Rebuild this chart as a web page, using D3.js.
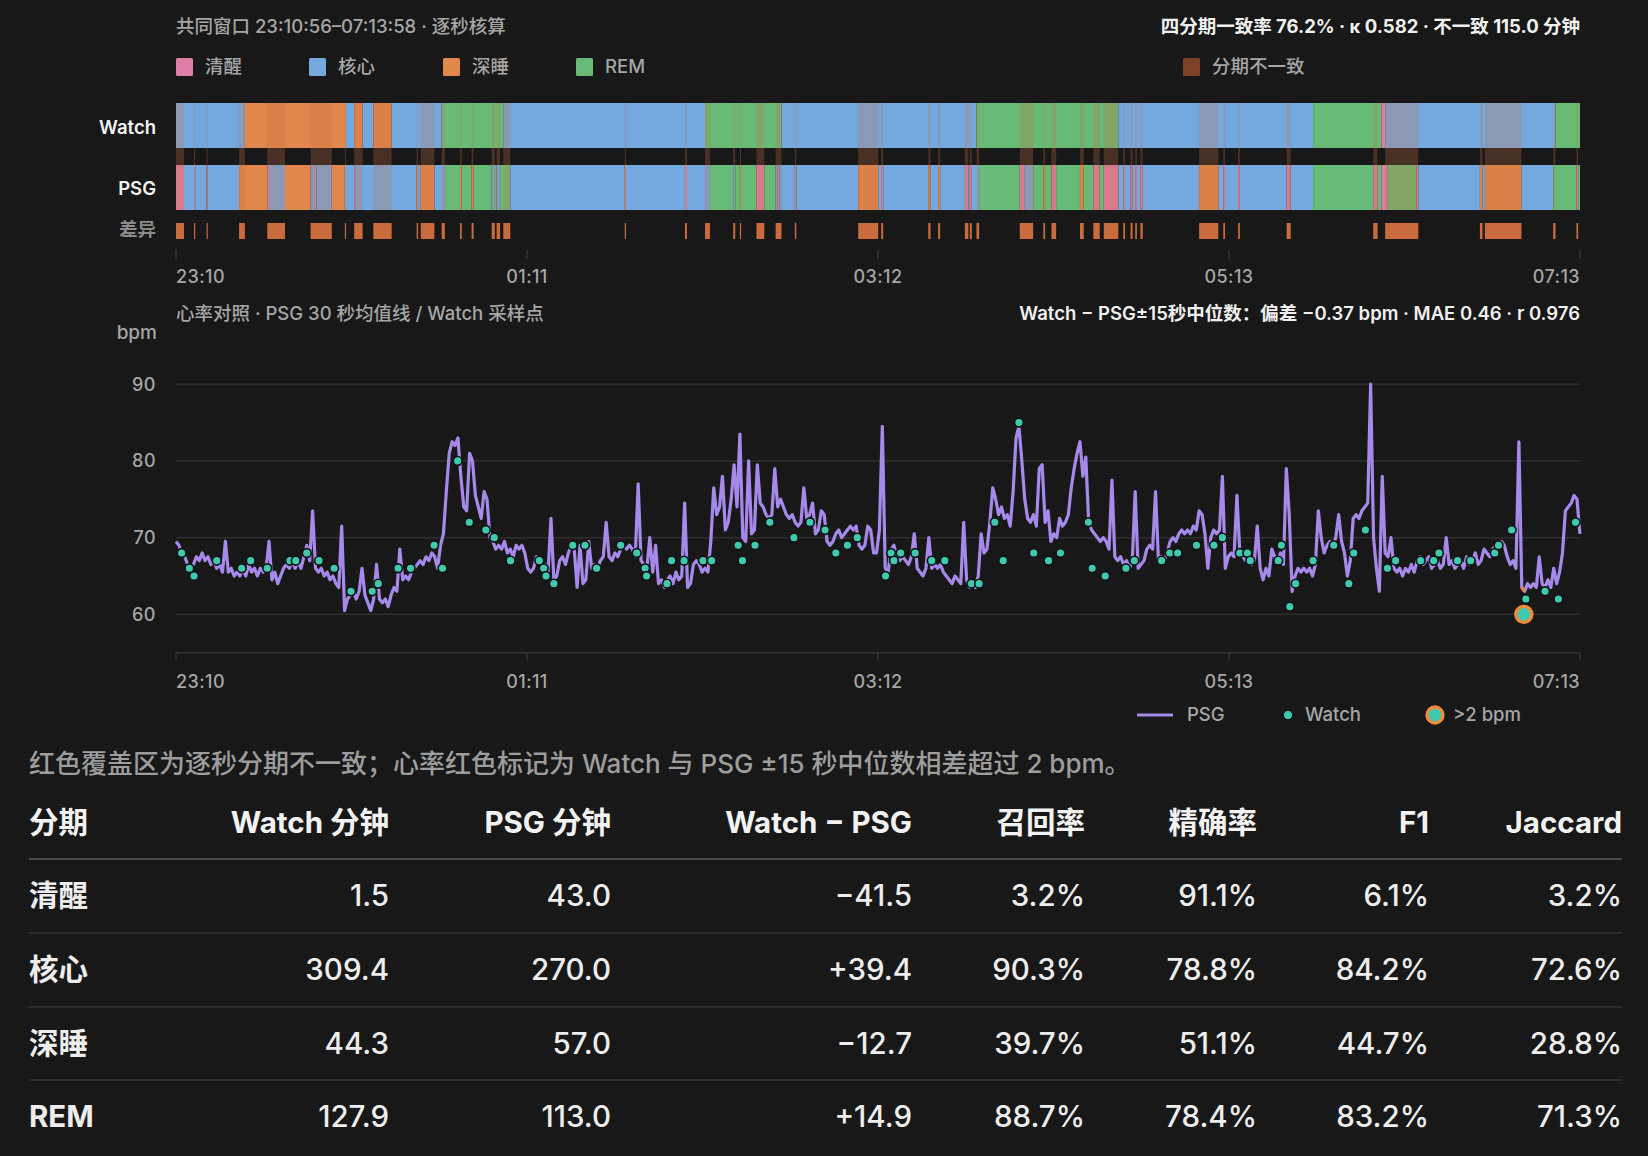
<!DOCTYPE html>
<html><head><meta charset="utf-8">
<script src="https://cdn.jsdelivr.net/npm/d3@7"></script>
<style>
html,body{margin:0;padding:0;background:#181818;}
svg{display:block;}
text{font-family:Inter,"Noto Sans CJK SC","Noto Sans",sans-serif;}
</style></head><body>
<svg id="c" width="1648" height="1156"></svg>
<script>
// ---------------- DATA ----------------
const TOTAL_MIN = 483.03; // 23:10:56 – 07:13:58
const tickLabels = ["23:10", "01:11", "03:12", "05:13", "07:13"];
const stageKeys = ["awake", "core", "deep", "rem"];
const stageNames = ["清醒", "核心", "深睡", "REM"];
const stageColors = ["#de7ea6", "#74a9e0", "#e2874b", "#67bb77"];

// [start minute, end minute, stage]
const watchSegments = [
  [0, 23.7, "core"], [23.7, 58.5, "deep"], [58.5, 61.3, "core"], [61.3, 64.2, "deep"],
  [64.2, 67.9, "core"], [67.9, 74.2, "deep"], [74.2, 91.4, "core"], [91.4, 112.6, "rem"],
  [112.6, 182.0, "core"], [182.0, 208.3, "rem"], [208.3, 275.4, "core"], [275.4, 324.2, "rem"],
  [324.2, 391.2, "core"], [391.2, 414.7, "rem"], [414.7, 416.0, "awake"], [416.0, 474.6, "core"],
  [474.6, 483.03, "rem"]
];
const psgSegments = [
  [0, 2.75, "awake"], [2.75, 6.2, "core"], [6.2, 6.6, "awake"], [6.6, 10.5, "core"],
  [10.5, 10.9, "awake"], [10.9, 21.7, "core"], [21.7, 31.4, "deep"], [31.4, 32.0, "awake"],
  [32.0, 37.5, "core"], [37.5, 46.3, "deep"], [46.3, 47.8, "core"], [47.8, 48.3, "awake"],
  [48.3, 53.6, "core"], [53.6, 58.1, "deep"], [58.1, 61.5, "core"], [61.5, 61.9, "awake"],
  [61.9, 82.8, "core"], [82.8, 83.3, "deep"], [83.3, 84.2, "core"], [84.2, 88.9, "deep"],
  [88.9, 92.5, "core"], [92.5, 97.7, "rem"], [97.7, 98.3, "deep"], [98.3, 101.7, "rem"],
  [101.7, 102.4, "deep"], [102.4, 108.6, "rem"], [108.6, 109.7, "core"], [109.7, 110.3, "rem"],
  [110.3, 111.5, "core"], [111.5, 115.0, "rem"], [115.0, 154.4, "core"], [154.4, 154.8, "deep"],
  [154.8, 175.1, "core"], [175.1, 175.8, "awake"], [175.8, 183.7, "core"], [183.7, 191.7, "rem"],
  [191.7, 192.4, "core"], [192.4, 194.0, "rem"], [194.0, 194.4, "deep"], [194.4, 199.7, "rem"],
  [199.7, 202.4, "awake"], [202.4, 206.3, "rem"], [206.3, 207.0, "core"], [207.0, 207.6, "awake"],
  [207.6, 212.9, "core"], [212.9, 213.4, "awake"], [213.4, 234.7, "core"], [234.7, 241.6, "deep"],
  [241.6, 242.6, "core"], [242.6, 243.3, "awake"], [243.3, 258.8, "core"], [258.8, 259.6, "deep"],
  [259.6, 262.2, "core"], [262.2, 262.9, "deep"], [262.9, 271.4, "core"], [271.4, 272.6, "awake"],
  [272.6, 273.1, "core"], [273.1, 273.8, "awake"], [273.8, 276.3, "core"], [276.3, 290.3, "rem"],
  [290.3, 291.8, "awake"], [291.8, 294.9, "core"], [294.9, 298.4, "rem"], [298.4, 299.0, "deep"],
  [299.0, 301.2, "rem"], [301.2, 302.8, "awake"], [302.8, 311.0, "rem"], [311.0, 312.3, "deep"],
  [312.3, 315.6, "rem"], [315.6, 317.8, "awake"], [317.8, 319.2, "rem"], [319.2, 324.2, "awake"],
  [324.2, 325.9, "core"], [325.9, 326.5, "awake"], [326.5, 328.4, "core"], [328.4, 329.1, "awake"],
  [329.1, 330.0, "core"], [330.0, 330.6, "awake"], [330.6, 331.8, "core"], [331.8, 332.6, "awake"],
  [332.6, 352.0, "core"], [352.0, 358.6, "deep"], [358.6, 360.3, "core"], [360.3, 360.9, "awake"],
  [360.9, 365.4, "core"], [365.4, 366.0, "awake"], [366.0, 382.1, "core"], [382.1, 383.5, "awake"],
  [383.5, 391.2, "core"], [391.2, 411.9, "rem"], [411.9, 413.4, "awake"], [413.4, 414.7, "rem"],
  [414.7, 416.7, "awake"], [416.7, 426.8, "rem"], [426.8, 427.4, "awake"], [427.4, 448.6, "core"],
  [448.6, 449.5, "deep"], [449.5, 450.3, "core"], [450.3, 462.9, "deep"], [462.9, 473.8, "core"],
  [473.8, 481.8, "rem"], [481.8, 482.4, "awake"], [482.4, 483.03, "rem"]
];

// PSG heart rate, one value per minute from 23:10:56 (bpm)
const psgBpm = [
  69.5,69,68,67.5,66.5,66,66.5,67.5,67,68,
  67,67.5,66.5,67,66,66.5,65.5,69.5,65.5,66,
  65,65.5,65,66,65,66.5,65.5,66,65,66,
  65.5,66,69.5,64.5,65.5,64,65,66,66.5,66,
  67,66,67,66,67.5,69,67,73.5,66,65.5,
  66,65,65.5,64.5,65,64,63.5,71.5,60.5,62,
  62.5,63,62,63,66,62.5,61.5,60.5,62,66.5,
  62,61.5,62,61,62.5,63.5,63,68.5,64.5,65,
  64.5,65.5,66,66.5,67,66.5,67.5,67,68,67.5,
  66,69,70.5,76,81,82.5,82,83,78,74,
  73.5,81,80,75.5,74,72.5,76,75,70,69.5,
  68.5,69,68.5,69.5,68,68.5,67.5,69,68.5,69,
  68,66,65.5,66,67.5,67,66,66.5,65.5,72.5,
  64.5,65,67,67.5,66.5,68,69,68.5,63.5,69,
  64,64.5,69.5,66,66.5,66,67,67.5,72,67.5,
  67,68,67.5,68.5,69,68.5,69,68.5,67.5,77,
  67,66.5,66,70,65.5,69,64,64.5,63.5,64.5,
  65,64,65.5,64.5,65,74.5,63.5,64,66.5,67,
  66.5,65.5,66,65.5,69.5,76.5,73,74,78,71,
  72,75,79.5,74,83.5,70,69.5,80,70.5,71,
  79.5,74.5,74,73,72.5,73,79,74,75,74,
  73,72.5,73,72,71.5,72,76.5,72.5,73,74.5,
  70.5,71,73.5,73,69.5,69,69.5,70.5,71,70,
  70.5,71,71.5,71,71.5,69,68.5,69,71.5,71,
  68,68,71,84.5,66,65.5,68.5,69,67.5,67,
  67.5,67,66.5,67.5,70.5,66,65.5,65,66,70,
  66,66.5,66,66.5,65.5,65,64.5,64,65,64.5,
  64,72,64.5,63.5,64,63.5,65,70.5,68,68.5,
  72,76.5,75,73,74,72.5,73,71.5,76,83,
  84.5,80,75,72.5,72,73,71.5,79,79.5,72,
  73.5,69.5,70.5,70,72.5,71.5,72,73,76.5,79,
  81,82.5,78,80.5,72,71,70.5,70,69.5,70,
  69.5,68.5,77.5,67.5,67,67.5,66.5,67,66,67,
  76,66,66.5,67,68.5,69,68.5,76,67,67.5,
  67,68,69.5,70,69.5,70.5,71,70.5,71,70.5,
  71.5,71,73.5,73,70.5,66,70,71,70.5,71,
  78,66,67.5,68,67.5,75.5,68,67.5,67,67.5,
  66.5,67,71.5,66,64.5,66,65,68.5,67.5,67,
  68,66.5,79,73,63,65,66,65.5,66,65.5,
  66,65,66.5,73.5,70,68,69,69.5,69,70,
  73,69.5,68,65,67,72.5,73,72.5,73.5,74,
  74.5,90,70,66,63,78,68,67.5,70,66,
  65.5,66,65,66,65.5,66.5,65.5,67,67.5,66.5,
  67,67.5,66,66.5,67,66,66.5,70,66.5,67,
  66,66.5,67,66,67.5,66.5,67,68,66.5,67,
  68.5,68,67.5,68.5,69,68.5,69.5,69,67.5,66.5,
  67,66,82.5,63.5,63,64,63.5,64,63.5,67.5,
  64,63.5,64.5,63.5,66,64,65.5,68,73.5,74,
  74.5,75.5,75,70.5
];

// Watch samples: minute offset and bpm
const watchMin = [
  1.95,4.6,6.2,14.0,22.6,25.7,31.4,39.2,41.2,45.0,49.2,54.4,60.2,67.5,69.6,76.4,80.7,88.8,91.7,
  96.9,100.9,106.6,109.5,115.1,125.0,126.5,127.3,130.0,136.5,140.7,144.7,153.0,158.5,161.4,161.9,
  168.9,170.5,174.8,181.3,184.3,193.4,194.9,199.2,204.3,212.6,218.1,223.3,227.0,231.0,234.4,244.1,
  246.0,247.0,249.3,254.3,260.0,264.5,273.7,276.3,281.7,284.6,290.0,295.1,300.2,304.3,313.9,315.2,
  319.7,326.8,329.7,339.1,341.9,344.6,351.1,357.1,360.0,366.0,368.6,369.6,379.2,380.3,383.2,385.2,
  391.2,398.3,403.5,405.2,409.2,416.8,419.6,428.2,432.7,434.5,440.9,445.4,453.7,455.0,459.5,463.7,
  464.4,471.0,475.6,481.5
];
const watchBpm = [
  68,66,65,67,66,67,66,67,67,68,67,66,63,63,64,66,66,69,66,
  80,72,71,70,67,67,66,65,64,69,69,66,69,68,66,65,
  64,67,67,67,67,69,67,69,72,70,72,71,68,69,70,65,
  68,67,68,68,67,67,64,64,72,67,85,68,67,68,72,66,
  65,66,67,67,68,68,69,69,70,68,68,67,67,69,61,64,
  67,69,64,68,71,66,67,67,67,68,67,67,68,69,71,60,
  62,63,62,72
];
// Watch samples differing from PSG ±15 s median by more than 2 bpm
const flaggedMin = [463.7];

const yTicks = [60, 70, 80, 90];

const headTitle = "共同窗口 23:10:56–07:13:58 · 逐秒核算";
const headStats = "四分期一致率 76.2% · κ 0.582 · 不一致 115.0 分钟";
const hrTitle = "心率对照 · PSG 30 秒均值线 / Watch 采样点";
const hrStats = "Watch − PSG±15秒中位数：偏差 −0.37 bpm · MAE 0.46 · r 0.976";
const noteText = "红色覆盖区为逐秒分期不一致；心率红色标记为 Watch 与 PSG ±15 秒中位数相差超过 2 bpm。";

const tableHeaders = ["分期", "Watch 分钟", "PSG 分钟", "Watch − PSG", "召回率", "精确率", "F1", "Jaccard"];
const colWatchMin = ["1.5", "309.4", "44.3", "127.9"];
const colPsgMin = ["43.0", "270.0", "57.0", "113.0"];
const colDiff = ["−41.5", "+39.4", "−12.7", "+14.9"];
const colRecall = ["3.2%", "90.3%", "39.7%", "88.7%"];
const colPrecision = ["91.1%", "78.8%", "51.1%", "78.4%"];
const colF1 = ["6.1%", "84.2%", "44.7%", "83.2%"];
const colJaccard = ["3.2%", "72.6%", "28.8%", "71.3%"];

// ---------------- DRAW ----------------
const svg = d3.select("#c");
svg.append("rect").attr("width", 1648).attr("height", 1156).attr("fill", "#181818");

const color = d3.scaleOrdinal().domain(stageKeys).range(stageColors);
const x = d3.scaleLinear().domain([0, TOTAL_MIN]).range([176, 1580]);
const tickMins = tickLabels.map((_, i) => i * TOTAL_MIN / (tickLabels.length - 1));
const anchorFor = i => i === 0 ? "start" : (i === tickLabels.length - 1 ? "end" : "middle");

const gray = "#a6a6a6";
const SMALL = 18.5;

// header
svg.append("text").attr("x", 176).attr("y", 27).attr("dy", "0.35em")
  .attr("font-size", SMALL).attr("font-weight", 500).attr("fill", gray).text(headTitle);
svg.append("text").attr("x", 1580).attr("y", 27).attr("dy", "0.35em").attr("text-anchor", "end")
  .attr("font-size", SMALL).attr("font-weight", 700).attr("fill", "#f0f0f0").text(headStats);

// legend
const legX = [176, 309, 443, 576];
stageKeys.forEach((k, i) => {
  const g = svg.append("g").attr("transform", `translate(${legX[i]},67)`);
  g.append("rect").attr("x", 0).attr("y", -9).attr("width", 17).attr("height", 18).attr("rx", 1.5).attr("fill", color(k));
  g.append("text").attr("x", 29).attr("dy", "0.35em").attr("font-size", SMALL).attr("font-weight", 500).attr("fill", gray).text(stageNames[i]);
});
{
  const g = svg.append("g").attr("transform", "translate(1183,67)");
  g.append("rect").attr("x", 0).attr("y", -9).attr("width", 17).attr("height", 18).attr("rx", 1.5).attr("fill", "#7d4128");
  g.append("text").attr("x", 29).attr("dy", "0.35em").attr("font-size", SMALL).attr("font-weight", 500).attr("fill", gray).text("分期不一致");
}

// hypnogram rows
const rowWatch = {y: 103, h: 45}, rowPsg = {y: 165, h: 45}, rowDiff = {y: 223, h: 16};
svg.append("text").attr("x", 156).attr("y", 128).attr("dy", "0.35em").attr("text-anchor", "end")
  .attr("font-size", SMALL).attr("font-weight", 600).attr("fill", "#f2f2f2").text("Watch");
svg.append("text").attr("x", 156).attr("y", 189).attr("dy", "0.35em").attr("text-anchor", "end")
  .attr("font-size", SMALL).attr("font-weight", 600).attr("fill", "#f2f2f2").text("PSG");
svg.append("text").attr("x", 156).attr("y", 230).attr("dy", "0.35em").attr("text-anchor", "end")
  .attr("font-size", SMALL).attr("font-weight", 600).attr("fill", "#8a8a8a").text("差异");

function drawSegs(segs, row) {
  svg.append("g").selectAll("rect").data(segs).join("rect")
    .attr("x", d => x(d[0])).attr("y", row.y)
    .attr("width", d => Math.max(0.8, x(d[1]) - x(d[0])))
    .attr("height", row.h).attr("fill", d => color(d[2]));
}
drawSegs(watchSegments, rowWatch);
drawSegs(psgSegments, rowPsg);

// disagreement intervals computed from the two hypnograms
function stageAt(segs, m) {
  for (const s of segs) if (m >= s[0] && m < s[1]) return s[2];
  return null;
}
const bounds = Array.from(new Set([...watchSegments, ...psgSegments].flatMap(s => [s[0], s[1]]))).sort((a, b) => a - b);
const disagree = [];
for (let i = 0; i < bounds.length - 1; i++) {
  const a = bounds[i], b = bounds[i + 1];
  const mid = (a + b) / 2;
  if (stageAt(watchSegments, mid) !== stageAt(psgSegments, mid)) {
    const last = disagree[disagree.length - 1];
    if (last && Math.abs(last[1] - a) < 1e-9) last[1] = b; else disagree.push([a, b]);
  }
}
svg.append("g").selectAll("rect").data(disagree).join("rect")
  .attr("x", d => x(d[0])).attr("y", rowWatch.y)
  .attr("width", d => Math.max(1, x(d[1]) - x(d[0])))
  .attr("height", rowPsg.y + rowPsg.h - rowWatch.y)
  .attr("fill", "rgb(200,110,70)").attr("fill-opacity", 0.28);
svg.append("g").selectAll("rect").data(disagree).join("rect")
  .attr("x", d => x(d[0])).attr("y", rowDiff.y)
  .attr("width", d => Math.max(1.2, x(d[1]) - x(d[0])))
  .attr("height", rowDiff.h).attr("fill", "#c96b3c");

// hypnogram time axis
const tg1 = svg.append("g");
tickMins.forEach((m, i) => {
  tg1.append("line").attr("x1", x(m)).attr("x2", x(m)).attr("y1", 250).attr("y2", 259)
    .attr("stroke", "#333").attr("stroke-width", 1.5);
  tg1.append("text").attr("x", x(m)).attr("y", 277).attr("dy", "0.35em").attr("text-anchor", anchorFor(i))
    .attr("font-size", 18).attr("font-weight", 500).attr("letter-spacing", 0.4).attr("fill", gray).text(tickLabels[i]);
});

// heart-rate panel
svg.append("text").attr("x", 176).attr("y", 314).attr("dy", "0.35em")
  .attr("font-size", SMALL).attr("font-weight", 500).attr("fill", gray).text(hrTitle);
svg.append("text").attr("x", 1580).attr("y", 314).attr("dy", "0.35em").attr("text-anchor", "end")
  .attr("font-size", SMALL).attr("font-weight", 600).attr("fill", "#f0f0f0").text(hrStats);
svg.append("text").attr("x", 157).attr("y", 332).attr("dy", "0.35em").attr("text-anchor", "end")
  .attr("font-size", 19).attr("font-weight", 500).attr("fill", gray).text("bpm");

const y = d3.scaleLinear().domain([55, 90]).range([652.7, 384.2]);
const gg = svg.append("g");
yTicks.forEach(v => {
  gg.append("line").attr("x1", 176).attr("x2", 1580).attr("y1", y(v)).attr("y2", y(v))
    .attr("stroke", "#2e2e2e").attr("stroke-width", 1.5);
  gg.append("text").attr("x", 156).attr("y", y(v)).attr("dy", "0.35em").attr("text-anchor", "end")
    .attr("font-size", 18).attr("font-weight", 500).attr("letter-spacing", 0.5).attr("fill", gray).text(v);
});
gg.append("line").attr("x1", 176).attr("x2", 1580).attr("y1", y(55)).attr("y2", y(55))
  .attr("stroke", "#333").attr("stroke-width", 1.5);
tickMins.forEach((m, i) => {
  gg.append("line").attr("x1", x(m)).attr("x2", x(m)).attr("y1", y(55)).attr("y2", y(55) + 7)
    .attr("stroke", "#333").attr("stroke-width", 1.5);
  gg.append("text").attr("x", x(m)).attr("y", 682).attr("dy", "0.35em").attr("text-anchor", anchorFor(i))
    .attr("font-size", 18).attr("font-weight", 500).attr("letter-spacing", 0.4).attr("fill", gray).text(tickLabels[i]);
});

const psgPts = psgBpm.map((v, i) => [Math.min(i, TOTAL_MIN), v]);
const line = d3.line().x(d => x(d[0])).y(d => y(d[1]));
svg.append("path").datum(psgPts).attr("d", line).attr("fill", "none")
  .attr("stroke", "#a689ea").attr("stroke-width", 3.2).attr("stroke-linejoin", "round");

// highlight PSG near flagged samples
flaggedMin.forEach(m => {
  const seg = psgPts.filter(p => p[0] >= Math.floor(m) && p[0] <= Math.ceil(m));
  svg.append("path").datum(seg).attr("d", line).attr("fill", "none")
    .attr("stroke", "#f08a3c").attr("stroke-width", 3.2);
});

const watchPts = watchMin.map((m, i) => [m, watchBpm[i]]);
svg.append("g").selectAll("circle").data(watchPts).join("circle")
  .attr("cx", d => x(d[0])).attr("cy", d => y(d[1])).attr("r", 4.4)
  .attr("fill", "#3fcab0").attr("stroke", "#141414").attr("stroke-width", 1.7);
svg.append("g").selectAll("circle").data(watchPts.filter(d => flaggedMin.includes(d[0]))).join("circle")
  .attr("cx", d => x(d[0])).attr("cy", d => y(d[1])).attr("r", 8)
  .attr("fill", "#3fcab0").attr("stroke", "#f08a3c").attr("stroke-width", 3.4);

// HR legend
const lg = svg.append("g");
lg.append("line").attr("x1", 1137).attr("x2", 1173).attr("y1", 715).attr("y2", 715)
  .attr("stroke", "#a689ea").attr("stroke-width", 3.2);
lg.append("text").attr("x", 1187).attr("y", 715).attr("dy", "0.35em").attr("font-size", SMALL).attr("font-weight", 500).attr("fill", gray).text("PSG");
lg.append("circle").attr("cx", 1288).attr("cy", 715).attr("r", 4).attr("fill", "#3fcab0");
lg.append("text").attr("x", 1305).attr("y", 715).attr("dy", "0.35em").attr("font-size", SMALL).attr("font-weight", 500).attr("fill", gray).text("Watch");
lg.append("circle").attr("cx", 1435).attr("cy", 715).attr("r", 8).attr("fill", "#3fcab0")
  .attr("stroke", "#f08a3c").attr("stroke-width", 3.4);
lg.append("text").attr("x", 1453).attr("y", 715).attr("dy", "0.35em").attr("font-size", SMALL).attr("font-weight", 500).attr("fill", gray).text(">2 bpm");

// note
svg.append("text").attr("x", 29).attr("y", 764).attr("dy", "0.35em")
  .attr("font-size", 26).attr("font-weight", 500).attr("fill", "#9d9d9d").text(noteText);

// table
const colRight = [null, 389, 611, 912, 1085, 1257, 1429, 1622];
const cols = [stageNames, colWatchMin, colPsgMin, colDiff, colRecall, colPrecision, colF1, colJaccard];
const tg = svg.append("g");
tableHeaders.forEach((h, j) => {
  tg.append("text").attr("x", j === 0 ? 29 : colRight[j]).attr("y", 823).attr("dy", "0.35em")
    .attr("text-anchor", j === 0 ? "start" : "end")
    .attr("font-size", 29.5).attr("font-weight", 700).attr("fill", "#f2f2f2").text(h);
});
tg.append("line").attr("x1", 29).attr("x2", 1622).attr("y1", 859).attr("y2", 859)
  .attr("stroke", "#4a4a4a").attr("stroke-width", 2);
const rowY = [896, 970, 1044, 1117];
rowY.forEach((ry, r) => {
  if (r > 0) tg.append("line").attr("x1", 29).attr("x2", 1622).attr("y1", ry - 37).attr("y2", ry - 37)
    .attr("stroke", "#333").attr("stroke-width", 1.5);
  cols.forEach((col, j) => {
    tg.append("text").attr("x", j === 0 ? 29 : colRight[j]).attr("y", ry).attr("dy", "0.35em")
      .attr("text-anchor", j === 0 ? "start" : "end")
      .attr("font-size", 29.5).attr("font-weight", j === 0 ? 700 : 500).attr("fill", "#ededed").text(col[r]);
  });
});
</script>
</body></html>
